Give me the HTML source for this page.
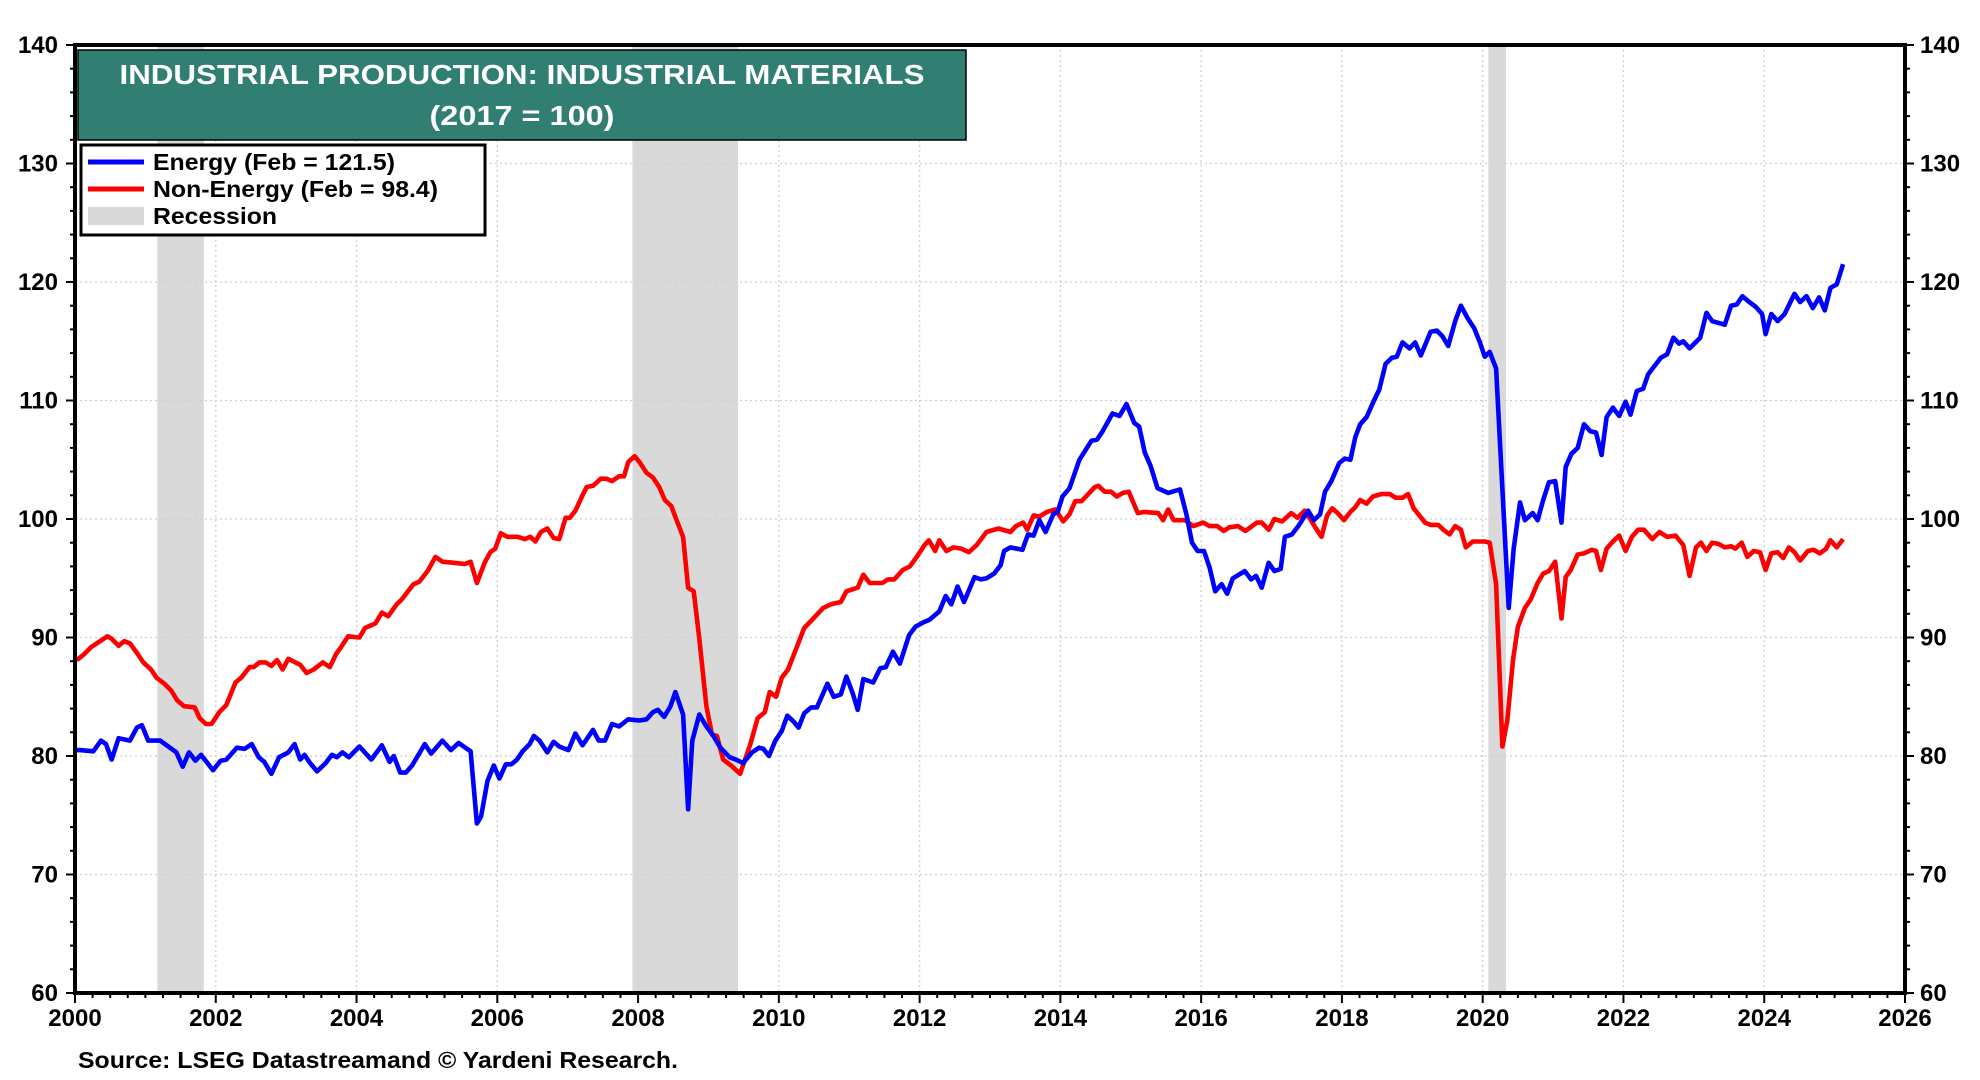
<!DOCTYPE html>
<html><head><meta charset="utf-8">
<style>
html,body{margin:0;padding:0;background:#fff;}
svg{display:block;font-family:"Liberation Sans",Arial,sans-serif;}
</style></head>
<body>
<svg id="chart" width="1980" height="1080" viewBox="0 0 1980 1080" xmlns="http://www.w3.org/2000/svg">
<g id="recessions"></g>
<g id="grid"></g>
<g id="series"></g>
<g id="axes"></g>
<g>
<rect x="78" y="50" width="888" height="90" fill="#317f73" stroke="#000" stroke-width="1.5"/>
<text x="522" y="84" text-anchor="middle" font-size="28" font-weight="bold" fill="#fff" textLength="805" lengthAdjust="spacingAndGlyphs">INDUSTRIAL PRODUCTION: INDUSTRIAL MATERIALS</text>
<text x="522" y="125" text-anchor="middle" font-size="28" font-weight="bold" fill="#fff" textLength="185" lengthAdjust="spacingAndGlyphs">(2017 = 100)</text>
</g>
<g>
<rect x="81" y="145" width="404" height="90" fill="#fff" stroke="#000" stroke-width="3"/>
<line x1="88" y1="162" x2="144" y2="162" stroke="#0000ff" stroke-width="5"/>
<text x="153" y="170" font-size="23" font-weight="bold" textLength="242" lengthAdjust="spacingAndGlyphs">Energy (Feb = 121.5)</text>
<line x1="88" y1="189" x2="144" y2="189" stroke="#ff0000" stroke-width="5"/>
<text x="153" y="197" font-size="23" font-weight="bold" textLength="285" lengthAdjust="spacingAndGlyphs">Non-Energy (Feb = 98.4)</text>
<rect x="88" y="207" width="56" height="18" fill="#d9d9d9"/>
<text x="153" y="224" font-size="23" font-weight="bold" textLength="124" lengthAdjust="spacingAndGlyphs">Recession</text>
</g>
<text x="78" y="1068" font-size="23" font-weight="bold" textLength="600" lengthAdjust="spacingAndGlyphs">Source: LSEG Datastreamand © Yardeni Research.</text>
</svg>
<script>
const recessionStarts = [2001.17, 2007.92, 2020.08];
const recessionEnds = [2001.83, 2009.42, 2020.33];
const yTicks = [60,70,80,90,100,110,120,130,140];
const xTicks = [2000,2002,2004,2006,2008,2010,2012,2014,2016,2018,2020,2022,2024,2026];

const energyDates = [2000.0,2000.07,2000.26,2000.37,2000.44,2000.52,2000.62,2000.78,2000.88,2000.95,2001.04,2001.21,2001.44,2001.53,2001.62,2001.71,2001.79,2001.96,2002.07,2002.15,2002.3,2002.41,2002.51,2002.61,2002.69,2002.79,2002.9,2003.03,2003.12,2003.2,2003.26,2003.34,2003.44,2003.56,2003.65,2003.72,2003.8,2003.89,2004.04,2004.21,2004.36,2004.47,2004.53,2004.62,2004.7,2004.79,2004.97,2005.06,2005.22,2005.34,2005.45,2005.62,2005.71,2005.77,2005.86,2005.95,2006.03,2006.12,2006.2,2006.28,2006.36,2006.46,2006.52,2006.6,2006.71,2006.8,2006.88,2007.01,2007.11,2007.21,2007.36,2007.44,2007.53,2007.63,2007.73,2007.86,2008.02,2008.12,2008.21,2008.28,2008.37,2008.46,2008.53,2008.64,2008.71,2008.77,2008.87,2008.97,2009.07,2009.17,2009.3,2009.39,2009.49,2009.62,2009.72,2009.78,2009.86,2009.95,2010.04,2010.12,2010.21,2010.28,2010.36,2010.46,2010.54,2010.69,2010.78,2010.88,2010.96,2011.05,2011.12,2011.2,2011.34,2011.44,2011.52,2011.62,2011.72,2011.85,2011.94,2012.06,2012.14,2012.28,2012.37,2012.45,2012.54,2012.63,2012.78,2012.87,2012.95,2013.06,2013.15,2013.2,2013.29,2013.46,2013.54,2013.62,2013.7,2013.79,2013.9,2013.96,2014.03,2014.13,2014.27,2014.44,2014.52,2014.6,2014.74,2014.84,2014.94,2015.05,2015.12,2015.2,2015.28,2015.38,2015.53,2015.7,2015.79,2015.87,2015.95,2016.04,2016.12,2016.2,2016.29,2016.37,2016.45,2016.62,2016.71,2016.78,2016.86,2016.96,2017.04,2017.13,2017.19,2017.29,2017.38,2017.52,2017.6,2017.69,2017.76,2017.85,2017.96,2018.04,2018.12,2018.19,2018.26,2018.35,2018.44,2018.53,2018.62,2018.71,2018.78,2018.86,2018.96,2019.04,2019.12,2019.26,2019.35,2019.43,2019.51,2019.61,2019.69,2019.78,2019.88,2019.96,2020.03,2020.1,2020.19,2020.28,2020.37,2020.44,2020.53,2020.6,2020.71,2020.78,2020.86,2020.94,2021.03,2021.12,2021.18,2021.26,2021.35,2021.44,2021.53,2021.61,2021.69,2021.76,2021.85,2021.94,2022.03,2022.1,2022.19,2022.28,2022.35,2022.44,2022.53,2022.62,2022.71,2022.79,2022.85,2022.94,2023.09,2023.18,2023.26,2023.44,2023.53,2023.61,2023.69,2023.79,2023.88,2023.97,2024.02,2024.1,2024.19,2024.29,2024.43,2024.51,2024.6,2024.69,2024.78,2024.86,2024.94,2025.03,2025.12];
const energyValues = [80.5,80.5,80.4,81.3,81.0,79.7,81.5,81.3,82.4,82.6,81.3,81.3,80.3,79.1,80.3,79.6,80.1,78.8,79.6,79.7,80.7,80.6,81.0,79.9,79.5,78.5,79.9,80.3,81.0,79.7,80.1,79.4,78.7,79.4,80.1,79.9,80.3,79.9,80.8,79.7,80.9,79.5,80.0,78.6,78.6,79.2,81.0,80.2,81.3,80.5,81.1,80.4,74.3,74.9,77.9,79.2,78.1,79.3,79.3,79.7,80.4,81.0,81.7,81.3,80.3,81.2,80.8,80.5,81.9,80.9,82.2,81.3,81.3,82.7,82.5,83.1,83.0,83.1,83.7,83.9,83.3,84.2,85.4,83.5,75.5,81.3,83.5,82.5,81.7,80.7,79.9,79.7,79.4,80.3,80.7,80.6,80.0,81.3,82.1,83.4,82.9,82.4,83.6,84.1,84.1,86.1,85.0,85.2,86.7,85.3,83.9,86.5,86.2,87.4,87.5,88.8,87.8,90.2,90.9,91.3,91.5,92.2,93.5,92.8,94.3,93.0,95.1,94.9,95.0,95.4,96.1,97.3,97.6,97.4,98.7,98.6,99.9,98.9,100.4,100.6,101.9,102.6,105.0,106.6,106.7,107.4,108.9,108.7,109.7,108.1,107.8,105.6,104.5,102.6,102.2,102.5,100.4,98.0,97.3,97.3,95.9,93.9,94.5,93.7,95.0,95.6,94.9,95.2,94.2,96.3,95.6,95.8,98.5,98.7,99.4,100.7,99.9,100.4,102.3,103.2,104.7,105.1,105.0,106.9,108.0,108.6,109.8,110.9,113.1,113.6,113.7,114.9,114.4,114.9,113.8,115.8,115.9,115.4,114.6,116.7,118.0,117.0,116.1,114.9,113.7,114.1,112.7,102.5,92.5,97.5,101.4,99.9,100.5,99.9,101.6,103.1,103.2,99.7,104.4,105.5,106.0,108.0,107.4,107.3,105.4,108.6,109.4,108.7,109.9,108.8,110.8,111.0,112.2,112.9,113.6,113.9,115.3,114.8,115.0,114.4,115.3,117.4,116.7,116.4,118.0,118.1,118.8,118.3,117.9,117.3,115.6,117.3,116.7,117.3,119.0,118.3,118.8,117.8,118.7,117.6,119.5,119.8,121.5];

const nonEnergyDates = [2000.0,2000.05,2000.13,2000.23,2000.36,2000.46,2000.52,2000.62,2000.7,2000.78,2000.88,2000.97,2001.08,2001.16,2001.27,2001.37,2001.45,2001.55,2001.7,2001.77,2001.86,2001.94,2002.05,2002.15,2002.28,2002.36,2002.48,2002.54,2002.62,2002.71,2002.79,2002.87,2002.95,2003.03,2003.2,2003.29,2003.39,2003.52,2003.62,2003.71,2003.78,2003.88,2004.04,2004.12,2004.27,2004.36,2004.45,2004.57,2004.64,2004.81,2004.89,2005.01,2005.12,2005.22,2005.38,2005.54,2005.62,2005.71,2005.82,2005.9,2005.97,2006.05,2006.14,2006.29,2006.39,2006.47,2006.54,2006.62,2006.71,2006.8,2006.88,2006.97,2007.03,2007.11,2007.21,2007.27,2007.36,2007.47,2007.55,2007.63,2007.73,2007.8,2007.86,2007.95,2008.02,2008.12,2008.21,2008.3,2008.38,2008.47,2008.56,2008.64,2008.71,2008.79,2008.87,2008.97,2009.05,2009.12,2009.21,2009.32,2009.45,2009.59,2009.7,2009.8,2009.87,2009.96,2010.04,2010.13,2010.21,2010.36,2010.49,2010.63,2010.74,2010.88,2010.96,2011.12,2011.2,2011.29,2011.47,2011.55,2011.64,2011.76,2011.86,2011.96,2012.07,2012.13,2012.22,2012.28,2012.38,2012.48,2012.59,2012.7,2012.81,2012.95,2013.12,2013.29,2013.37,2013.47,2013.53,2013.62,2013.7,2013.81,2013.93,2014.04,2014.13,2014.21,2014.3,2014.38,2014.49,2014.54,2014.63,2014.72,2014.8,2014.89,2014.97,2015.1,2015.19,2015.39,2015.46,2015.53,2015.61,2015.77,2015.89,2016.03,2016.12,2016.23,2016.32,2016.4,2016.52,2016.63,2016.79,2016.86,2016.96,2017.04,2017.15,2017.28,2017.37,2017.47,2017.56,2017.62,2017.71,2017.79,2017.86,2017.94,2018.03,2018.12,2018.19,2018.26,2018.35,2018.44,2018.56,2018.68,2018.76,2018.86,2018.94,2019.02,2019.1,2019.18,2019.26,2019.37,2019.44,2019.53,2019.61,2019.69,2019.76,2019.86,2019.94,2020.03,2020.1,2020.19,2020.28,2020.35,2020.43,2020.5,2020.6,2020.68,2020.78,2020.86,2020.94,2021.03,2021.12,2021.18,2021.25,2021.35,2021.44,2021.55,2021.61,2021.68,2021.76,2021.85,2021.94,2022.03,2022.12,2022.21,2022.29,2022.41,2022.51,2022.62,2022.74,2022.85,2022.94,2023.03,2023.1,2023.18,2023.26,2023.35,2023.44,2023.53,2023.59,2023.68,2023.76,2023.85,2023.94,2024.02,2024.1,2024.19,2024.27,2024.35,2024.43,2024.51,2024.62,2024.7,2024.79,2024.88,2024.94,2025.03,2025.12];
const nonEnergyValues = [88.1,88.2,88.6,89.2,89.7,90.1,89.9,89.3,89.7,89.5,88.7,87.9,87.3,86.6,86.1,85.5,84.7,84.2,84.1,83.2,82.7,82.7,83.7,84.3,86.2,86.6,87.5,87.5,87.9,87.9,87.6,88.1,87.3,88.2,87.7,87.0,87.3,87.9,87.5,88.6,89.2,90.1,90.0,90.8,91.2,92.1,91.8,92.8,93.2,94.5,94.7,95.6,96.8,96.4,96.3,96.2,96.4,94.6,96.3,97.2,97.5,98.8,98.5,98.5,98.3,98.5,98.1,98.9,99.2,98.4,98.3,100.1,100.1,100.7,102.0,102.7,102.8,103.4,103.4,103.2,103.6,103.6,104.8,105.3,104.8,103.9,103.5,102.7,101.6,101.1,99.7,98.5,94.2,93.9,89.9,84.2,81.8,81.7,79.7,79.2,78.5,80.9,83.2,83.7,85.4,85.0,86.6,87.3,88.5,90.8,91.6,92.5,92.8,93.0,93.9,94.2,95.3,94.6,94.6,94.9,94.9,95.7,96.0,96.8,97.8,98.2,97.3,98.2,97.3,97.6,97.5,97.2,97.8,98.9,99.2,98.9,99.4,99.7,99.1,100.3,100.2,100.6,100.8,99.8,100.4,101.5,101.5,102.0,102.7,102.8,102.3,102.3,101.9,102.2,102.3,100.5,100.6,100.5,99.9,100.8,99.9,99.9,99.4,99.7,99.4,99.4,99.0,99.3,99.4,99.0,99.7,99.7,99.1,100.0,99.8,100.5,100.1,100.7,99.9,99.3,98.5,100.3,100.9,100.5,99.9,100.6,101.0,101.6,101.3,101.9,102.1,102.1,101.8,101.8,102.1,100.9,100.3,99.7,99.5,99.5,99.1,98.7,99.4,99.1,97.6,98.1,98.1,98.1,98.0,94.5,80.8,83.0,88.1,90.9,92.5,93.2,94.6,95.4,95.6,96.4,91.6,95.1,95.7,97.0,97.1,97.4,97.3,95.7,97.5,98.1,98.6,97.3,98.5,99.1,99.1,98.3,98.9,98.5,98.6,97.8,95.2,97.6,98.0,97.3,98.0,97.9,97.6,97.7,97.5,98.0,96.8,97.3,97.2,95.7,97.1,97.2,96.7,97.6,97.2,96.5,97.3,97.4,97.1,97.5,98.2,97.6,98.3];

const L=75,R=1905,T=45,B=993;
function xScale(yr){return L+(yr-2000)/26*(R-L);}
function yScale(v){return B-(v-60)/80*(B-T);}
const NS="http://www.w3.org/2000/svg";
function mk(tag,attrs,parent){const e=document.createElementNS(NS,tag);for(const k in attrs)e.setAttribute(k,attrs[k]);parent.appendChild(e);return e;}

const rg=document.getElementById('recessions');
recessionStarts.forEach((s,i)=>{
  const r=mk('rect',{x:xScale(s),y:T,width:xScale(recessionEnds[i])-xScale(s),height:B-T,fill:'#d9d9d9'},rg);
  
  
});

const gg=document.getElementById('grid');
yTicks.forEach(v=>{ if(v>60&&v<140){const l=mk('line',{x1:L,x2:R,y1:yScale(v),y2:yScale(v),stroke:'#cfcfcf','stroke-width':1.3,'stroke-dasharray':'2,3'},gg);
  
  }});
xTicks.forEach(y=>{ if(y>2000&&y<2026){const l=mk('line',{x1:xScale(y),x2:xScale(y),y1:T,y2:B,stroke:'#cfcfcf','stroke-width':1.3,'stroke-dasharray':'2,3'},gg);
  
  }});

const sg=document.getElementById('series');
function drawLine(dates,vals,color,name){
  const d=dates.map((t,i)=>(i?'L':'M')+xScale(t).toFixed(1)+','+yScale(vals[i]).toFixed(1)).join('');
  const p=mk('path',{d:d,fill:'none',stroke:color,'stroke-width':4.6,'stroke-linejoin':'round'},sg);
  
  
}
drawLine(nonEnergyDates,nonEnergyValues,'#ff0000','non-energy-line');
drawLine(energyDates,energyValues,'#0000ff','energy-line');

const ag=document.getElementById('axes');
mk('rect',{x:L,y:T,width:R-L,height:B-T,fill:'none',stroke:'#000','stroke-width':4},ag);
for(let v=60;v<=140;v+=2){
  const major=v%10===0;const len=major?9:5;
  mk('line',{x1:L-len,x2:L,y1:yScale(v),y2:yScale(v),stroke:'#000','stroke-width':2},ag);
  mk('line',{x1:R,x2:R+len,y1:yScale(v),y2:yScale(v),stroke:'#000','stroke-width':2},ag);
}
for(let q=0;q<=26*4;q++){
  const yr=2000+q/4;const major=(q%8===0);const len=major?10:5;
  mk('line',{x1:xScale(yr),x2:xScale(yr),y1:B,y2:B+len,stroke:'#000','stroke-width':2},ag);
}
yTicks.forEach(v=>{
  const t1=mk('text',{x:L-17,y:yScale(v)+8,'text-anchor':'end','font-size':24,'font-weight':'bold'},ag);
  t1.textContent=v;
  
  
  const t2=mk('text',{x:R+15,y:yScale(v)+8,'text-anchor':'start','font-size':24,'font-weight':'bold'},ag);
  t2.textContent=v;
  
  
});
xTicks.forEach(y=>{
  const t=mk('text',{x:xScale(y),y:B+33,'text-anchor':'middle','font-size':24,'font-weight':'bold'},ag);
  t.textContent=y;
  
  
});
</script>
</body></html>
